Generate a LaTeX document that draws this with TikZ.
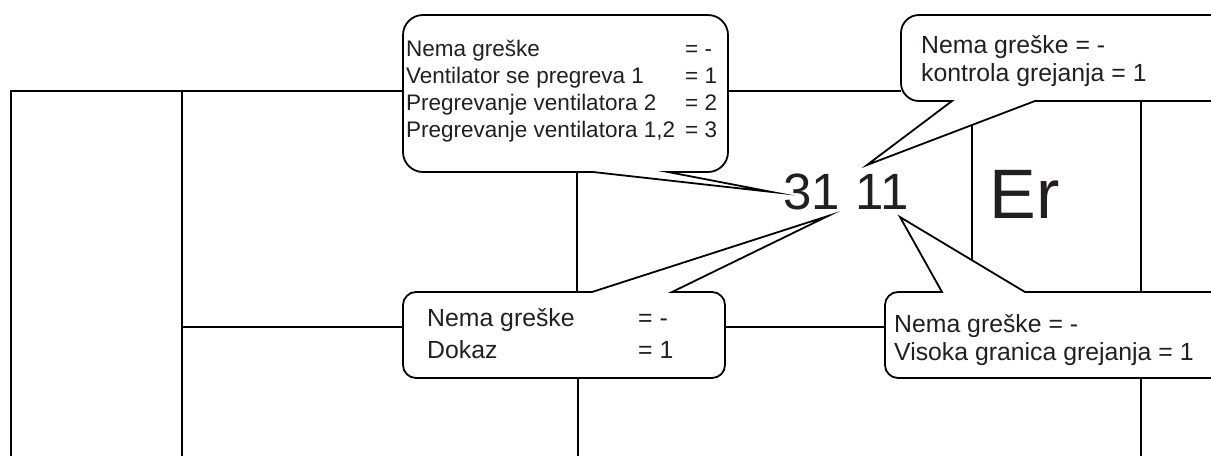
\documentclass[tikz,border=0pt]{standalone}
\usepackage{fontspec}
\setmainfont{Liberation Sans}
\definecolor{txt}{HTML}{231F20}
\begin{document}
\begin{tikzpicture}[x=1pt,y=-1pt,
  frame/.style={line width=1.8pt, draw=black},
  thickframe/.style={line width=2.6pt, draw=black},
  bubble/.style={line width=1.8pt, draw=black, fill=white, line join=miter, miter limit=40},
  lbl/.style={anchor=base west, inner sep=0pt, text=txt},
  fA/.style={font=\fontsize{22.5}{26}\selectfont},
  fB/.style={font=\fontsize{24.8}{28}\selectfont},
  fnum/.style={font=\fontsize{51}{56}\selectfont},
  fer/.style={font=\fontsize{70}{78}\selectfont}]
\useasboundingbox (0,0) rectangle (1211,456);
\clip (0,0) rectangle (1211,456);
\fill[white] (0,0) rectangle (1211,456);

% frame lines
\coordinate (o1) at (11,456);
\coordinate (o2) at (11,91);
\coordinate (o3) at (901,91);
\draw[frame] (o1) -- (o2) -- (o3);
\coordinate (v1a) at (182,91);
\coordinate (v1b) at (182,456);
\draw[frame] (v1a) -- (v1b);
\coordinate (h2a) at (182,327);
\coordinate (h2b) at (885,327);
\draw[frame] (h2a) -- (h2b);
\coordinate (v2a) at (577,120);
\coordinate (v2b) at (577,300);
\coordinate (v2c) at (578,370);
\coordinate (v2d) at (578,456);
\draw[frame] (v2a) -- (v2b);
\draw[thickframe] (v2c) -- (v2d);
\coordinate (v3a) at (972,100);
\coordinate (v3b) at (972,292);
\draw[frame] (v3a) -- (v3b);
\coordinate (v4a) at (1141,100);
\coordinate (v4b) at (1141,456);
\draw[frame] (v4a) -- (v4b);

% display texts
\node[lbl, fnum] (num) at (783,209) {\spaceskip=16pt\relax 31 11};
\node[lbl, fer] (er) at (989.6,218) {Er};

% pointer tips
\coordinate (tip1) at (772,192);
\coordinate (tip2) at (867,165);
\coordinate (tip3) at (828,216);
\coordinate (tip4) at (900,217);

% callout 1
\draw[bubble] (423,15) -- (708,15) arc (270:360:20) -- (728,152) arc (0:90:20)
  -- (668,172) -- (tip1) -- (593,172) -- (423,172) arc (90:180:20)
  -- (403,35) arc (180:270:20) -- cycle;
% callout 2
\draw[bubble] (919,15) -- (1222,15) arc (270:360:18) -- (1240,83) arc (0:90:18)
  -- (1035,101) -- (tip2) -- (952,101) -- (919,101) arc (90:180:18)
  -- (901,33) arc (180:270:18) -- cycle;
% callout 3
\draw[bubble] (416,292) -- (592,292) -- (tip3) -- (672,292) -- (712,292) arc (270:360:13)
  -- (725,365) arc (0:90:13) -- (416,378) arc (90:180:13)
  -- (403,305) arc (180:270:13) -- cycle;
% callout 4
\draw[bubble] (898,292) -- (942,292) -- (tip4) -- (1025,292) -- (1212,292) arc (270:360:13)
  -- (1225,365) arc (0:90:13) -- (898,378) arc (90:180:13)
  -- (885,305) arc (180:270:13) -- cycle;

% callout 1 text
\node[lbl, fA] (a1) at (406,56) {Nema greške};
\node[lbl, fA] (a2) at (406,83) {Ventilator se pregreva 1};
\node[lbl, fA] (a3) at (406,110) {Pregrevanje ventilatora 2};
\node[lbl, fA] (a4) at (406,137) {Pregrevanje ventilatora 1,2};
\node[lbl, fA] (e1) at (685,56) {= -};
\node[lbl, fA] (e2) at (685,83) {= 1};
\node[lbl, fA] (e3) at (685,110) {= 2};
\node[lbl, fA] (e4) at (685,137) {= 3};

% callout 2 text
\node[lbl, fB] (b1) at (921,53) {Nema greške = -};
\node[lbl, fB] (b2) at (921,81) {kontrola grejanja = 1};

% callout 3 text
\node[lbl, fB] (d1) at (427,326) {Nema greške};
\node[lbl, fB] (d2) at (427,358) {Dokaz};
\node[lbl, fB] (g1) at (638,326) {= -};
\node[lbl, fB] (g2) at (638,358) {= 1};

% callout 4 text
\node[lbl, fB] (k1) at (894,332) {Nema greške = -};
\node[lbl, fB] (k2) at (894,360) {Visoka granica grejanja = 1};
\end{tikzpicture}
\end{document}
